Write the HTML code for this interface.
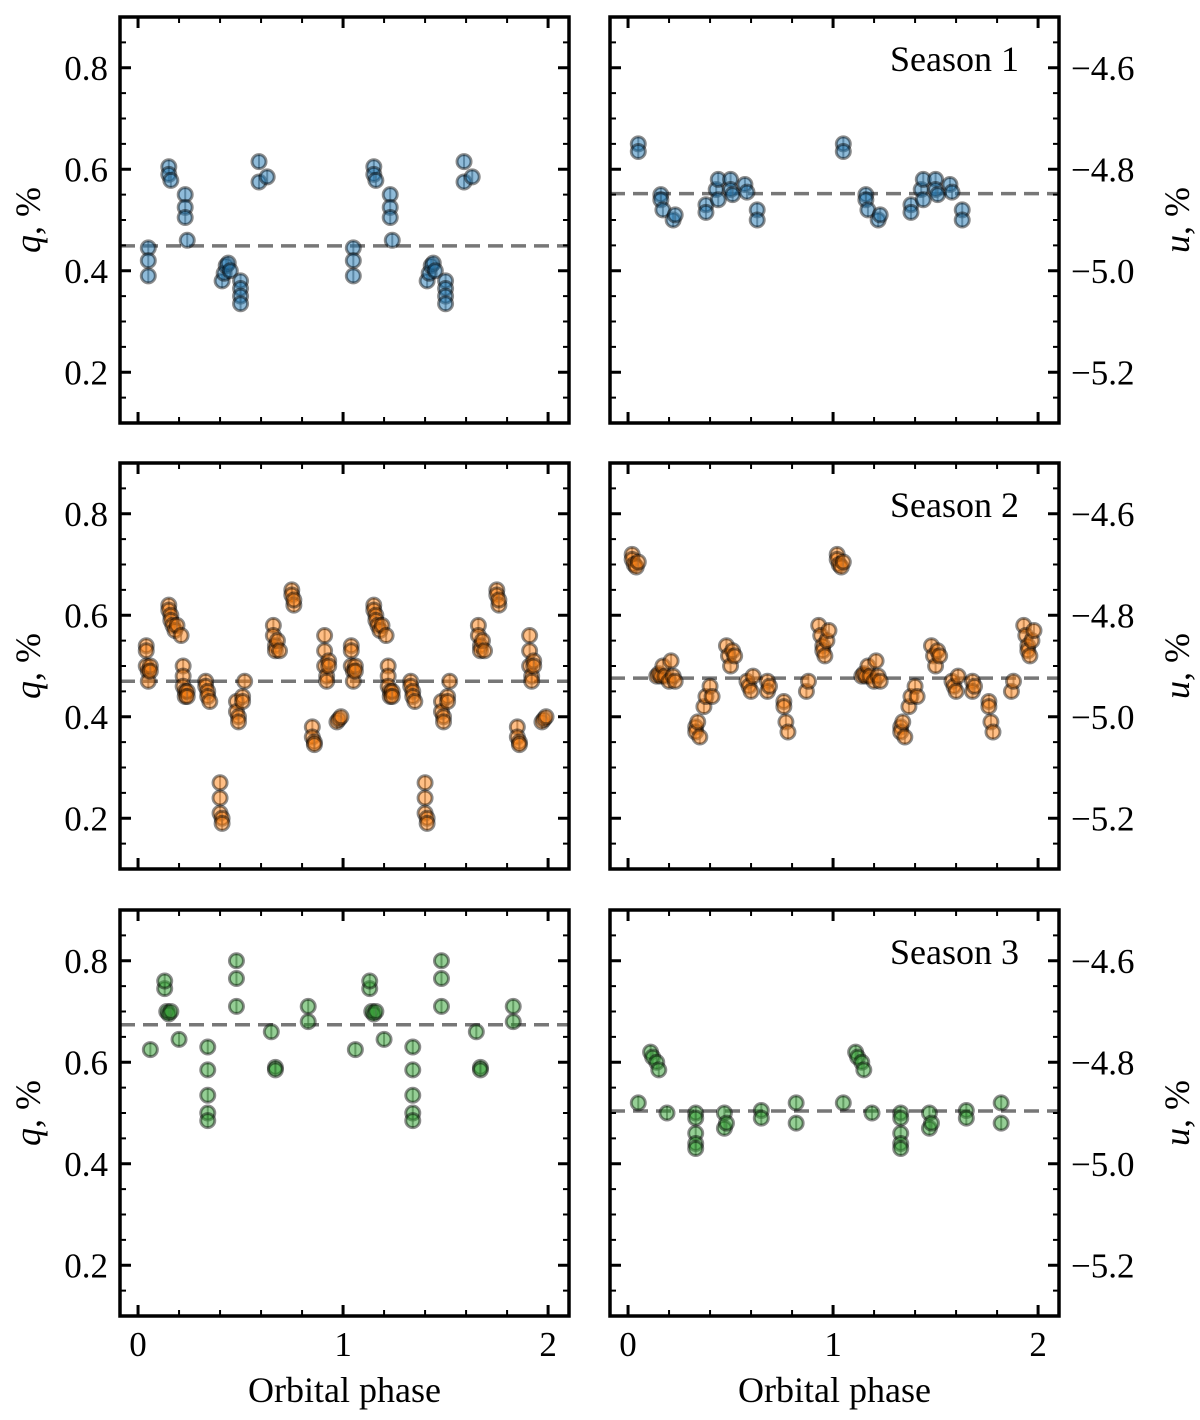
<!DOCTYPE html>
<html><head><meta charset="utf-8"><style>
body{margin:0;background:#fff}
svg text{font-family:"Liberation Serif",serif;fill:#000}
</style></head><body>
<svg id="fig" width="1200" height="1415" viewBox="0 0 1200 1415" xmlns="http://www.w3.org/2000/svg"></svg>
<script>
// Season 1
const s1qPhase=[0.05,0.05,0.05,0.15,0.15,0.16,0.23,0.23,0.23,0.24,0.41,0.42,0.43,0.44,0.45,0.5,0.5,0.5,0.5,0.59,0.59,0.63];
const s1qVal=[0.445,0.42,0.39,0.605,0.59,0.578,0.55,0.525,0.505,0.46,0.38,0.395,0.41,0.415,0.40,0.38,0.365,0.35,0.335,0.615,0.575,0.585];
const s1uPhase=[0.05,0.05,0.16,0.16,0.17,0.22,0.23,0.38,0.38,0.43,0.44,0.44,0.5,0.5,0.51,0.57,0.58,0.63,0.63];
const s1uVal=[-4.75,-4.765,-4.85,-4.86,-4.88,-4.90,-4.89,-4.87,-4.885,-4.84,-4.82,-4.86,-4.82,-4.84,-4.85,-4.83,-4.845,-4.88,-4.90];
const s1qMean=0.449, s1uMean=-4.848;
// Season 2
const s2qPhase=[0.04,0.04,0.04,0.05,0.05,0.06,0.06,0.15,0.15,0.16,0.16,0.17,0.18,0.19,0.21,0.22,0.22,0.22,0.23,0.23,0.24,0.24,0.33,0.33,0.34,0.34,0.35,0.40,0.40,0.40,0.41,0.41,0.48,0.48,0.49,0.49,0.51,0.51,0.52,0.66,0.66,0.67,0.67,0.68,0.69,0.75,0.75,0.76,0.76,0.85,0.85,0.86,0.86,0.91,0.91,0.91,0.92,0.92,0.93,0.93,0.97,0.98,0.99];
const s2qVal=[0.54,0.53,0.50,0.49,0.47,0.50,0.49,0.62,0.61,0.60,0.59,0.58,0.57,0.58,0.56,0.50,0.48,0.46,0.45,0.44,0.45,0.44,0.47,0.46,0.45,0.44,0.43,0.27,0.24,0.21,0.20,0.19,0.43,0.41,0.40,0.39,0.44,0.43,0.47,0.58,0.56,0.54,0.53,0.55,0.53,0.65,0.64,0.62,0.63,0.38,0.36,0.35,0.345,0.56,0.53,0.50,0.48,0.47,0.51,0.50,0.39,0.395,0.40];
const s2uPhase=[0.02,0.02,0.03,0.04,0.05,0.14,0.15,0.16,0.17,0.18,0.2,0.21,0.22,0.23,0.33,0.33,0.34,0.35,0.37,0.38,0.4,0.41,0.48,0.49,0.5,0.51,0.52,0.58,0.59,0.6,0.61,0.68,0.68,0.69,0.76,0.76,0.77,0.78,0.87,0.88,0.93,0.94,0.95,0.95,0.96,0.97,0.98];
const s2uVal=[-4.68,-4.69,-4.70,-4.705,-4.695,-4.92,-4.915,-4.92,-4.90,-4.92,-4.93,-4.89,-4.92,-4.93,-5.02,-5.03,-5.01,-5.04,-4.98,-4.96,-4.94,-4.96,-4.86,-4.88,-4.90,-4.87,-4.88,-4.93,-4.94,-4.95,-4.92,-4.93,-4.95,-4.94,-4.97,-4.98,-5.01,-5.03,-4.95,-4.93,-4.82,-4.84,-4.86,-4.87,-4.88,-4.85,-4.83];
const s2qMean=0.47, s2uMean=-4.924;
// Season 3
const s3qPhase=[0.06,0.13,0.13,0.14,0.15,0.16,0.2,0.34,0.34,0.34,0.34,0.34,0.48,0.48,0.48,0.65,0.67,0.67,0.83,0.83];
const s3qVal=[0.625,0.745,0.76,0.70,0.695,0.70,0.645,0.63,0.585,0.535,0.50,0.485,0.80,0.765,0.71,0.66,0.59,0.585,0.71,0.68];
const s3uPhase=[0.05,0.11,0.12,0.14,0.15,0.19,0.33,0.33,0.33,0.33,0.33,0.47,0.47,0.48,0.65,0.65,0.82,0.82];
const s3uVal=[-4.88,-4.78,-4.79,-4.80,-4.815,-4.90,-4.90,-4.91,-4.94,-4.96,-4.97,-4.90,-4.93,-4.92,-4.895,-4.91,-4.88,-4.92];
const s3qMean=0.674, s3uMean=-4.896;
const qTicks=[0.2,0.4,0.6,0.8], uTicks=[-5.2,-5.0,-4.8,-4.6], xTicks=[0,1,2];
const uTickLabels=["\u22125.2","\u22125.0","\u22124.8","\u22124.6"];

const NS="http://www.w3.org/2000/svg";
const svg=document.getElementById('fig');
function mk(tag,attrs,parent){const e=document.createElementNS(NS,tag);for(const k in attrs)e.setAttribute(k,attrs[k]);(parent||svg).appendChild(e);return e;}
const rowsTop=[17,463,910], H=406, colsLeft=[120,610], W=449;
const colors=["#1f77b4","#ff7f0e","#2ca02c"];
const X0=-0.088, X1=2.102;
function panel(row,col,phase,vals,mean,lo,hi,ticks,tickLabels,season){
  const px=colsLeft[col], py=rowsTop[row];
  const xs=v=>px+(v-X0)/(X1-X0)*W;
  const ys=v=>py+H-(v-lo)/(hi-lo)*H;
  const g=mk('g',{});
  
  
  const clip=mk('clipPath',{id:'c'+row+col},g);mk('rect',{x:px,y:py,width:W,height:H},clip);
  const dl=mk('line',{x1:px,x2:px+W,y1:ys(mean),y2:ys(mean),stroke:'#777','stroke-width':3.5,'stroke-dasharray':'15,8'},g);
  
  
  const pg=mk('g',{'clip-path':'url(#c'+row+col+')'},g);
  for(let rep=0;rep<2;rep++){
    for(let i=0;i<phase.length;i++){
      const cx=xs(phase[i]+rep), cy=ys(vals[i]);
      mk('line',{x1:cx,x2:cx,y1:cy-7,y2:cy+7,stroke:'rgba(80,80,80,0.6)','stroke-width':2},pg);
      const c=mk('circle',{cx:cx,cy:cy,r:7,fill:colors[row],'fill-opacity':0.5,stroke:'rgba(0,0,0,0.45)','stroke-width':3},pg);
      
      
    }
  }
  const tg=mk('g',{stroke:'#000'},g);
  for(let v=0;v<=2.1001;v+=0.2){const x=xs(v);const maj=Math.abs(v-Math.round(v))<1e-6;const L=maj?11:6,w=maj?3:2;
    mk('line',{x1:x,x2:x,y1:py+H,y2:py+H-L,'stroke-width':w},tg);mk('line',{x1:x,x2:x,y1:py,y2:py+L,'stroke-width':w},tg);}
  const step=0.05;for(let k=Math.ceil(lo/step-1e-6);k*step<=hi+1e-6;k++){const v=k*step;const y=ys(v);const maj=Math.abs(v/0.2-Math.round(v/0.2))<1e-6;const L=maj?11:6,w=maj?3:2;
    mk('line',{x1:px,x2:px+L,y1:y,y2:y,'stroke-width':w},tg);mk('line',{x1:px+W,x2:px+W-L,y1:y,y2:y,'stroke-width':w},tg);}
  const fr=mk('rect',{x:px,y:py,width:W,height:H,fill:'none',stroke:'#000','stroke-width':3.5},g);
  
  
  ticks.forEach((v,i)=>{
    const t=mk('text',{x:col?px+W+12:px-12,y:ys(v)+12,'font-size':35,'text-anchor':col?'start':'end'},g);
    t.textContent=tickLabels[i];
    
    
  });
  if(row===2){xTicks.forEach(v=>{const t=mk('text',{x:xs(v),y:py+H+40,'font-size':35,'text-anchor':'middle'},g);t.textContent=v;
    
    });
    const xl=mk('text',{x:px+W/2,y:py+H+86,'font-size':36,'text-anchor':'middle'},g);xl.textContent='Orbital phase';
    
    }
  const lx=col?px+W+130:px-80, ly=py+H/2;
  const yl=mk('text',{x:lx,y:ly,'font-size':36,'text-anchor':'middle',transform:'rotate(-90 '+lx+' '+ly+')'},g);
  yl.innerHTML='<tspan font-style="italic">'+(col?'u':'q')+'</tspan>, %';
  
  
  if(col===1){const st=mk('text',{x:px+W-40,y:py+54,'font-size':36,'text-anchor':'end'},g);st.textContent='Season '+season;
    
    }
}
const qL=qTicks.map(v=>v.toFixed(1));
panel(0,0,s1qPhase,s1qVal,s1qMean,0.1,0.9,qTicks,qL,1);
panel(0,1,s1uPhase,s1uVal,s1uMean,-5.3,-4.5,uTicks,uTickLabels,1);
panel(1,0,s2qPhase,s2qVal,s2qMean,0.1,0.9,qTicks,qL,2);
panel(1,1,s2uPhase,s2uVal,s2uMean,-5.3,-4.5,uTicks,uTickLabels,2);
panel(2,0,s3qPhase,s3qVal,s3qMean,0.1,0.9,qTicks,qL,3);
panel(2,1,s3uPhase,s3uVal,s3uMean,-5.3,-4.5,uTicks,uTickLabels,3);
</script>
</body></html>
